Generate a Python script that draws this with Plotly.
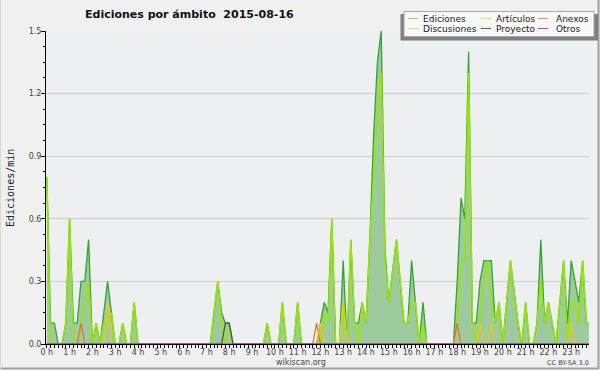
import plotly.graph_objects as go

# ---------------- data (10-minute bins, edits per minute) ----------------
HOURS = [i / 6 for i in range(144)]
HOUR_TICKS = list(range(24))
HOUR_LABELS = ["0 h", "1 h", "2 h", "3 h", "4 h", "5 h", "6 h", "7 h", "8 h", "9 h",
               "10 h", "11 h", "12 h", "13 h", "14 h", "15 h", "16 h", "17 h", "18 h",
               "19 h", "20 h", "21 h", "22 h", "23 h"]
Y_TICKS = [0.0, 0.3, 0.6, 0.9, 1.2, 1.5]
Y_LABELS = ["0.0", "0.3", "0.6", "0.9", "1.2", "1.5"]

EDICIONES = [
    0.8, 0.1, 0.1, 0, 0, 0.1, 0.6, 0.1, 0.1, 0.3, 0.3, 0.5,
    0, 0.1, 0, 0.15, 0.3, 0.15, 0, 0, 0.1, 0, 0, 0.2,
    0, 0, 0, 0, 0, 0, 0, 0, 0, 0, 0, 0,
    0, 0, 0, 0, 0, 0, 0, 0, 0.15, 0.3, 0.15, 0.1,
    0.1, 0, 0, 0, 0, 0, 0, 0, 0, 0, 0.1, 0,
    0, 0, 0.2, 0, 0, 0, 0.2, 0, 0, 0, 0, 0,
    0.1, 0.2, 0.15, 0.6, 0, 0, 0.4, 0, 0.5, 0.1, 0.1, 0.2,
    0.1, 0.5, 1.0, 1.35, 1.5, 0.45, 0.2, 0.35, 0.5, 0.3, 0.1, 0.1,
    0.4, 0.2, 0, 0.2, 0, 0, 0, 0, 0, 0, 0, 0,
    0.3, 0.7, 0.6, 1.4, 0.1, 0.1, 0.3, 0.4, 0.4, 0.4, 0.1, 0.2,
    0, 0.2, 0.4, 0.25, 0.1, 0, 0.2, 0, 0, 0.1, 0.5, 0.1,
    0.2, 0.1, 0, 0.2, 0.4, 0.1, 0.4, 0.3, 0.2, 0.4, 0.1, 0.1,
]
ARTICULOS = [
    0.8, 0, 0, 0, 0, 0.1, 0.6, 0, 0, 0.1, 0.2, 0.3,
    0, 0.1, 0, 0.1, 0.1, 0.15, 0, 0, 0.1, 0, 0, 0.2,
    0, 0, 0, 0, 0, 0, 0, 0, 0, 0, 0, 0,
    0, 0, 0, 0, 0, 0, 0, 0, 0.15, 0.3, 0.1, 0,
    0.1, 0, 0, 0, 0, 0, 0, 0, 0, 0, 0.1, 0,
    0, 0, 0.2, 0, 0, 0, 0.2, 0, 0, 0, 0, 0,
    0, 0.15, 0.1, 0.6, 0, 0, 0.2, 0, 0.5, 0.1, 0, 0.2,
    0.1, 0.5, 0.8, 1.1, 1.3, 0.4, 0.2, 0.35, 0.5, 0.3, 0.1, 0.1,
    0.2, 0.2, 0, 0.1, 0, 0, 0, 0, 0, 0, 0, 0,
    0.1, 0.4, 0.4, 1.3, 0.1, 0, 0.15, 0.3, 0.4, 0.2, 0.1, 0.2,
    0, 0.2, 0.4, 0.25, 0.1, 0, 0.2, 0, 0, 0.1, 0.3, 0.1,
    0.2, 0.1, 0, 0.2, 0.4, 0, 0.2, 0.2, 0.1, 0.4, 0.1, 0.1,
]
ANEXOS = [0] * 144
ANEXOS_POINTS = {9: 0.1, 71: 0.1, 108: 0.1}
DISCUSIONES = [0] * 144
DISCUSIONES_POINTS = {16: 0.2, 72: 0.1, 78: 0.2, 114: 0.1, 117: 0.1, 138: 0.1}
PROYECTO = [0] * 144
PROYECTO_POINTS = {47: 0.1, 48: 0.1}
OTROS = [0] * 144
for k, v in ANEXOS_POINTS.items():
    ANEXOS[k] = v
for k, v in DISCUSIONES_POINTS.items():
    DISCUSIONES[k] = v
for k, v in PROYECTO_POINTS.items():
    PROYECTO[k] = v

LEGEND_NAMES = ["Ediciones", "Artículos", "Anexos", "Discusiones", "Proyecto", "Otros"]

# ---------------- styling ----------------
W, H = 600, 370
ML, MR, MT, MB = 46, 11, 31, 26
PW, PH = W - ML - MR, H - MT - MB

C_ED_LINE = "#33a333"
C_ED_FILL = "#9ecb9e"
C_ART = "#98e600"
C_ANX = "#f06a28"
C_DIS = "#f2c614"
C_PRO = "#4a4a4a"
C_OTR = "#9040f0"
LEG_COLORS = ["#8fd08f", "#c8ee50", "#f08a5a", "#f6d24a", "#606060", "#9848f0"]


def fx(px):
    return (px - ML) / PW


def fy(py):
    return (MT + PH - py) / PH


fig = go.Figure()
fig.add_trace(go.Scatter(x=HOURS, y=EDICIONES, name="Ediciones", mode="lines",
                         line=dict(color=C_ED_LINE, width=1.3), fill="tozeroy",
                         fillcolor=C_ED_FILL, showlegend=False))
for name, ys, col, wd in [("Artículos", ARTICULOS, C_ART, 1.5), ("Anexos", ANEXOS, C_ANX, 1.2),
                          ("Discusiones", DISCUSIONES, C_DIS, 1.2),
                          ("Proyecto", PROYECTO, C_PRO, 1.2), ("Otros", OTROS, C_OTR, 1.2)]:
    fig.add_trace(go.Scatter(x=HOURS, y=ys, name=name, mode="lines",
                             line=dict(color=col, width=wd), showlegend=False))

tickfont = dict(family="DejaVu Sans", size=8, color="#444444")
fig.update_layout(
    width=W, height=H,
    margin=dict(l=ML, r=MR, t=MT, b=MB, pad=0),
    paper_bgcolor="#f0f0f0", plot_bgcolor="#eeeff1",
    showlegend=False,
    xaxis=dict(range=[-0.035, 23.78], tickmode="array", tickvals=HOUR_TICKS,
               ticktext=HOUR_LABELS, ticks="outside", ticklen=3, tickcolor="black",
               tickwidth=1, showline=True, linecolor="black", linewidth=1,
               showgrid=False, zeroline=False, tickfont=tickfont, ticklabelstandoff=-3,
               minor=dict(tickmode="linear", tick0=0, dtick=1 / 6, ticks="outside",
                          ticklen=3, tickcolor="black", showgrid=False)),
    yaxis=dict(range=[0, 1.5], tickmode="array", tickvals=Y_TICKS, ticktext=Y_LABELS,
               ticks="outside", ticklen=4, tickcolor="black", tickwidth=1,
               showline=True, linecolor="black", linewidth=1,
               showgrid=True, gridcolor="#cccccc", gridwidth=1, zeroline=False,
               tickfont=tickfont, ticklabelstandoff=-2,
               minor=dict(tickmode="linear", tick0=0, dtick=0.075, ticks="outside",
                          ticklen=2, tickcolor="black", showgrid=False)),
)

shapes = []
# outer frame
shapes.append(dict(type="line", xref="paper", yref="paper", x0=fx(598.5), x1=fx(598.5),
                   y0=fy(0), y1=fy(369), line=dict(color="#a0a0a0", width=2)))
shapes.append(dict(type="line", xref="paper", yref="paper", x0=fx(0), x1=fx(599),
                   y0=fy(368.5), y1=fy(368.5), line=dict(color="#a0a0a0", width=2)))
shapes.append(dict(type="line", xref="paper", yref="paper", x0=fx(0.5), x1=fx(0.5),
                   y0=fy(0), y1=fy(369), line=dict(color="#d8d8d8", width=1)))
# legend box with shadow
shapes.append(dict(type="rect", xref="paper", yref="paper", x0=fx(400.5), x1=fx(598),
                   y0=fy(40.5), y1=fy(14), fillcolor="#7f7f7f", line=dict(width=0)))
shapes.append(dict(type="rect", xref="paper", yref="paper", x0=fx(404), x1=fx(594),
                   y0=fy(36.5), y1=fy(11.5), fillcolor="#f8f8f8",
                   line=dict(color="#a8a8a8", width=1)))
annotations = []
LEG_X_LINE = [408, 481, 538, 408, 481, 538]
LEG_X_TEXT = [423, 496, 555.5, 423, 496, 555.5]
LEG_Y = [19, 19, 19, 29, 29, 29]
for name, col, xl, xt, yy in zip(LEGEND_NAMES, LEG_COLORS, LEG_X_LINE, LEG_X_TEXT, LEG_Y):
    shapes.append(dict(type="line", xref="paper", yref="paper", x0=fx(xl), x1=fx(xl + 10),
                       y0=fy(yy - 0.5), y1=fy(yy - 0.5), line=dict(color=col, width=1)))
    annotations.append(dict(text=name, xref="paper", yref="paper", x=fx(xt - 2), y=fy(yy),
                            xanchor="left", yanchor="middle", showarrow=False,
                            font=dict(family="DejaVu Sans", size=9, color="#222222")))

annotations.append(dict(text="<b>Ediciones por ámbito \u00a02015-08-16</b>", xref="paper",
                        yref="paper", x=fx(83), y=fy(14), xanchor="left", yanchor="middle",
                        showarrow=False,
                        font=dict(family="DejaVu Sans", size=11, color="#111111")))
annotations.append(dict(text="Ediciones/min", xref="paper", yref="paper", x=fx(10),
                        y=fy(188), xanchor="center", yanchor="middle", textangle=-90,
                        showarrow=False,
                        font=dict(family="DejaVu Sans Mono", size=10, color="#222222")))
annotations.append(dict(text="wikiscan.org", xref="paper", yref="paper", x=fx(300.5),
                        y=fy(362), xanchor="center", yanchor="middle", showarrow=False,
                        font=dict(family="DejaVu Sans", size=8, color="#444444")))
annotations.append(dict(text="CC BY-SA 3.0", xref="paper", yref="paper", x=fx(591),
                        y=fy(362.5), xanchor="right", yanchor="middle", showarrow=False,
                        font=dict(family="DejaVu Sans", size=6.5, color="#444444")))

fig.update_layout(shapes=shapes, annotations=annotations)
fig.write_html("out.html", config={"displayModeBar": False},
               post_script="document.body.style.margin='0';"
                           "document.body.style.overflow='hidden';")
